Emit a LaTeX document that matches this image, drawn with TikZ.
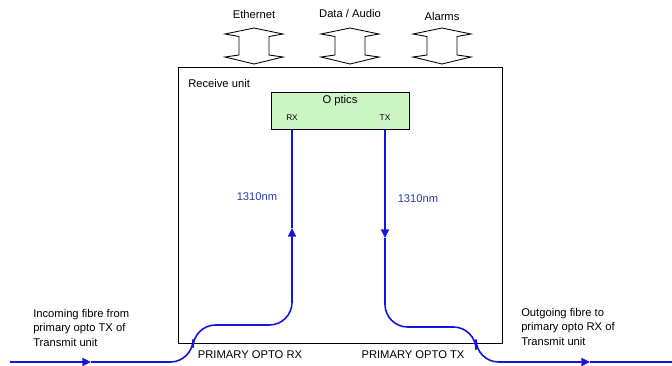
\documentclass[tikz,border=0pt]{standalone}
\usepackage{fontspec}
\setmainfont{Liberation Sans}
\usetikzlibrary{arrows.meta}

\definecolor{opticgreen}{RGB}{204,245,196}
\definecolor{fibreblue}{RGB}{20,20,220}
\definecolor{labelblue}{RGB}{40,60,170}

\tikzset{
    lbl/.style={font=\fontsize{8.4}{10}\selectfont, inner sep=0pt},
    small/.style={font=\fontsize{6.2}{7}\selectfont, inner sep=0pt},
    fibre/.style={draw=fibreblue, line width=1.2pt, rounded corners=17},
    tip/.style={-{Triangle[length=6.5pt,width=6pt]}},
    dblarrow/.pic={
        \draw[line width=0.65pt] (0,-18) -- (29,-12) -- (15,-9.5) -- (15,9) -- (29,11)
            -- (0,18) -- (-29,11) -- (-15,9) -- (-15,-9.5) -- (-29,-12) -- cycle;
    }
}

\begin{document}
\begin{tikzpicture}[x=0.75pt,y=-0.75pt]
    \useasboundingbox (0,0) rectangle (672,365);

    % Receive unit box
    \draw[line width=0.75pt] (178,67) rectangle (502,343);
    \node[lbl, anchor=west] (unit) at (188,83) {Receive unit};

    % Optics block
    \node[draw, line width=0.75pt, fill=opticgreen, minimum width=103pt, minimum height=27.5pt,
          inner sep=0pt] (optics) at (340.5,111) {};
    \node[lbl] (opticstxt) at (340,101) {O ptics};
    \node[small] (rx) at (292,118) {RX};
    \node[small] (tx) at (385,118) {TX};
    \coordinate (rxport) at (292,129.5);
    \coordinate (txport) at (385,129.5);

    % Interface arrows
    % -- top side
    \pic at (254,46) {dblarrow};
    \pic at (350,46) {dblarrow};
    \pic at (442,46) {dblarrow};
    \node[lbl] (eth) at (254,14) {Ethernet};
    \node[lbl] (data) at (350,13) {Data / Audio};
    \node[lbl] (alarm) at (442,16) {Alarms};

    % Fibre paths
    % -- incoming (RX)
    \coordinate (inL) at (10,362);
    \coordinate (inA) at (91,362);
    \coordinate (rxA) at (292,228);
    \draw[fibre, tip] (inL) -- (inA);
    \draw[fibre, tip] (inA) -- (193,362) -- (193,325) -- (292,325) -- (rxA);
    \draw[fibre] (rxA) -- (rxport);

    % -- outgoing (TX)
    \coordinate (txA) at (385,238);
    \coordinate (outA) at (590,362);
    \coordinate (outR) at (672,362);
    \draw[fibre, tip] (txport) -- (txA);
    \draw[fibre, tip] (txA) -- (385,327) -- (476,327) -- (476,362) -- (outA);
    \draw[fibre] (outA) -- (outR);

    % Wavelength labels
    \node[lbl, text=labelblue] (wlrx) at (257,197) {1310nm};
    \node[lbl, text=labelblue] (wltx) at (418,199) {1310nm};

    % Port labels
    \node[lbl] (prx) at (250,355) {PRIMARY OPTO RX};
    \node[lbl] (ptx) at (413,355) {PRIMARY OPTO TX};

    % Fibre descriptions
    \node[lbl, anchor=north west, align=left, font=\fontsize{8.4}{10.9}\selectfont] (incoming) at (33,309)
        {Incoming fibre from\\primary opto TX of\\Transmit unit};
    \node[lbl, anchor=north west, align=left, font=\fontsize{8.4}{10.9}\selectfont] (outgoing) at (521,308)
        {Outgoing fibre to\\primary opto RX of\\Transmit unit};
\end{tikzpicture}
\end{document}
